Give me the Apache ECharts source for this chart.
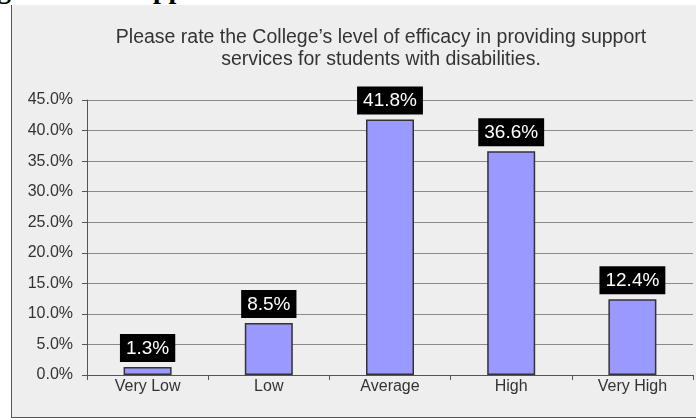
<!DOCTYPE html>
<html><head><meta charset="utf-8">
<style>
html,body{margin:0;padding:0;background:#fff;overflow:hidden;}
#wrap{position:relative;width:696px;height:420px;}
#panel{position:absolute;left:11px;top:5px;width:700px;height:412px;background:#eeeeee;border-left:1.5px solid #555;border-bottom:1.5px solid #555;}
.head{position:absolute;top:-25px;font:bold 28px "Liberation Serif";color:#000;line-height:28px;}
#c{position:absolute;left:0;top:0;width:696px;height:420px;}
</style>
<script src="https://cdn.jsdelivr.net/npm/echarts@6/dist/echarts.min.js"></script>
</head><body><div id="wrap">
<div class="head" style="left:-3px">g</div>
<div class="head" style="left:153px">pp</div>
<div id="panel"></div>
<div id="c"></div></div>
<script>
const categories = ['Very Low', 'Low', 'Average', 'High', 'Very High'];
const values = [1.3, 8.5, 41.8, 36.6, 12.4];
const titleText = 'Please rate the College\u2019s level of efficacy in providing support\nservices for students with disabilities.';
const yMax = 45, yStep = 5;

const chart = echarts.init(document.getElementById('c'), null, {renderer: 'canvas'});
chart.setOption({
  animation: false,
  backgroundColor: 'transparent',
  title: {
    text: titleText,
    left: 376, top: 22, textAlign: 'center',
    textStyle: {fontFamily: 'Liberation Sans', fontSize: 19.5, fontWeight: 'normal', color: '#333', lineHeight: 22}
  },
  grid: {left: 87, right: 3, top: 100, bottom: 45, containLabel: false},
  xAxis: {
    type: 'category', data: categories,
    axisLine: {lineStyle: {color: '#555', width: 1}},
    axisTick: {show: true, length: 5, lineStyle: {color: '#555'}},
    axisLabel: {color: '#333', fontFamily: 'Liberation Sans', fontSize: 16, margin: 4}
  },
  yAxis: {
    type: 'value', min: 0, max: yMax, interval: yStep,
    axisLine: {show: true, lineStyle: {color: '#555', width: 1}},
    axisTick: {show: true, length: 5, lineStyle: {color: '#555'}},
    splitLine: {lineStyle: {color: '#8a8a8a', width: 1}},
    axisLabel: {color: '#333', fontFamily: 'Liberation Sans', fontSize: 16, margin: 14,
      formatter: v => v.toFixed(1) + '%'}
  },
  series: [{
    type: 'bar', data: values, barWidth: 48,
    itemStyle: {color: '#9999ff', borderColor: '#333', borderWidth: 1.5},
    label: {
      show: true, position: 'top', distance: 5,
      formatter: p => p.value.toFixed(1) + '%',
      color: '#fff', backgroundColor: '#000', fontFamily: 'Liberation Sans', fontSize: 19,
      padding: [5, 6, 4, 6]
    }
  }]
});
</script></body></html>
